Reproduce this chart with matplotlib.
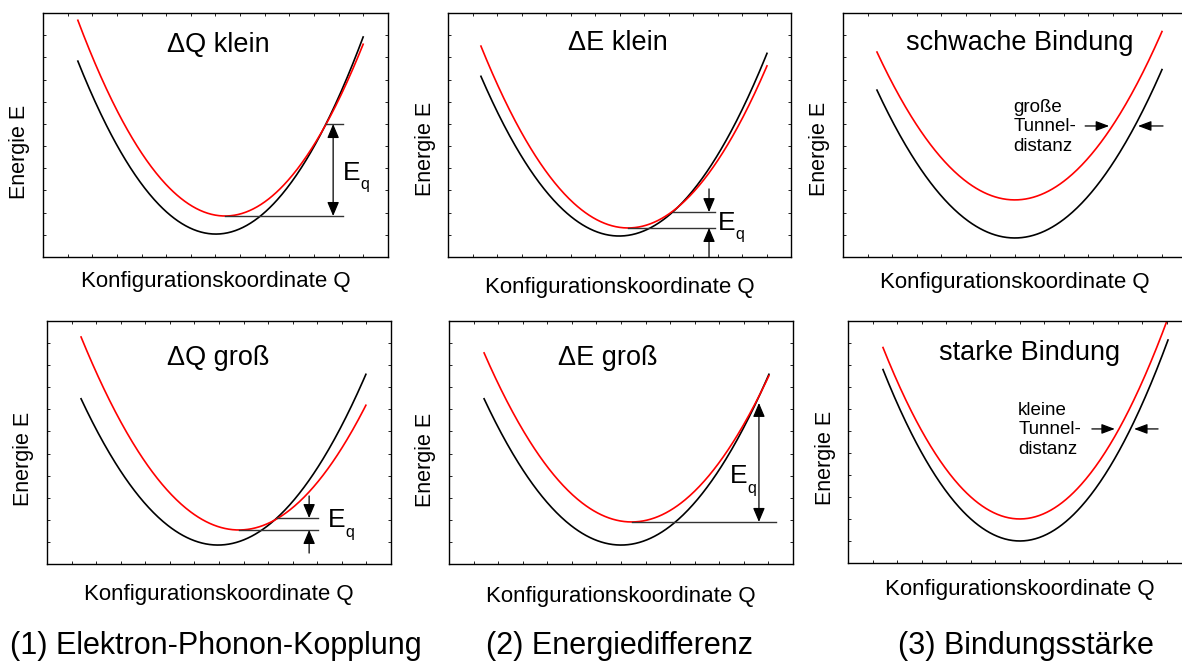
import numpy as np
import matplotlib
matplotlib.use('Agg')
import matplotlib.pyplot as plt

plt.rcParams['font.family'] = ['Liberation Sans', 'DejaVu Sans']

# --- data (configuration coordinate Q / energy E, arbitrary units 0..10) ---
titles = ['ΔQ klein', 'ΔE klein', 'schwache Bindung',
          'ΔQ groß', 'ΔE groß', 'starke Bindung']
captions = ['(1) Elektron-Phonon-Kopplung', '(2) Energiedifferenz', '(3) Bindungsstärke']

q_start = [1.01, 0.96, 0.99, 0.99, 1.02, 1.02]
q_end = [9.28, 9.30, 9.30, 9.27, 9.30, 9.33]

# ground state (black): minimum position, minimum energy, curvature
ground_q0 = [5.01, 4.99, 5.01, 4.97, 5.00, 5.01]
ground_e0 = [0.94, 0.86, 0.78, 0.78, 0.78, 0.91]
ground_k = [0.443, 0.403, 0.375, 0.380, 0.380, 0.445]

# excited state (red)
excited_q0 = [5.28, 5.25, 5.01, 5.58, 5.31, 5.01]
excited_e0 = [1.68, 1.19, 2.34, 1.40, 1.73, 1.82]
excited_k = [0.440, 0.405, 0.375, 0.377, 0.378, 0.445]

# upper level of the E_q marker
eq_top = [5.45, 1.84, None, 1.89, 6.63, None]

tunnel_text = [None, None, 'große\nTunnel-\ndistanz', None, None, 'kleine\nTunnel-\ndistanz']

# --- layout ---
W, H = 1182, 663
boxes = [(43, 13, 388, 257), (448, 13, 791, 257), (843, 13, 1186, 257),
         (47, 321, 391, 564), (449, 321, 793, 564), (848, 321, 1191, 563)]
title_pos = [(5.07, 8.69), (4.96, 8.77), (5.16, 8.77), (4.97, 8.48), (4.62, 8.48), (5.30, 8.68)]
xlabel_off = [30, 36, 31, 36, 38, 32]
ylabel_dy = [17, 14, 14, 16, 17, 16]

# E_q marker details: line end, arrow x, style, text position
eq_marker = {
    0: dict(x_end=8.70, x_arr=8.41, style='inner', text=(8.70, 3.16)),
    1: dict(x_end=7.78, x_arr=7.61, style='outer', below=0.0, above=2.79, text=(7.87, 1.11)),
    3: dict(x_end=7.88, x_arr=7.62, style='outer', below=0.45, above=2.80, text=(8.17, 1.52)),
    4: dict(x_end=9.51, x_arr=9.01, style='inner', text=(8.17, 3.33), no_upper=True),
}
tunnel = {
    2: dict(y=5.37, right=(7.06, 7.76), left=(9.33, 8.60), text=(4.96, 5.33)),
    5: dict(y=5.54, right=(7.11, 7.78), left=(9.04, 8.34), text=(4.96, 5.50)),
}

fig = plt.figure(figsize=(W / 100, H / 100), dpi=100)

def arrow(ax, tail, tip, style='-|>', hl=0.85, hw=0.36):
    ax.annotate('', xy=tip, xytext=tail,
                arrowprops=dict(arrowstyle=f'{style},head_length={hl},head_width={hw}',
                                color='black', lw=0.9, shrinkA=0, shrinkB=0,
                                mutation_scale=10))

for i in range(6):
    l, t, r, b = boxes[i]
    ax = fig.add_axes([l / W, 1 - b / H, (r - l) / W, (b - t) / H])
    ax.set_xlim(0, 10)
    ax.set_ylim(0, 10)
    ax.set_xticks(np.linspace(0, 10, 15))
    ax.set_yticks(np.linspace(0, 10, 12))
    ax.tick_params(direction='in', length=2.5, width=0.6, top=True, right=True,
                   labelbottom=False, labelleft=False)
    for s in ax.spines.values():
        s.set_linewidth(1.0)

    q = np.linspace(q_start[i], q_end[i], 300)
    ax.plot(q, ground_e0[i] + ground_k[i] * (q - ground_q0[i]) ** 2, color='black', lw=1.2)
    ax.plot(q, excited_e0[i] + excited_k[i] * (q - excited_q0[i]) ** 2, color='#ff0000', lw=1.2)

    ax.text(*title_pos[i], titles[i], fontsize=19.5, ha='center', va='center')

    if i in eq_marker:
        m = eq_marker[i]
        low = excited_e0[i]
        high = eq_top[i]
        ax.plot([excited_q0[i], m['x_end']], [low, low], color='#333333', lw=1.0)
        if not m.get('no_upper'):
            xc = ground_q0[i] + np.sqrt((high - ground_e0[i]) / ground_k[i])
            ax.plot([xc, m['x_end']], [high, high], color='#333333', lw=1.0)
        if m['style'] == 'inner':
            arrow(ax, (m['x_arr'], low), (m['x_arr'], high), style='<|-|>')
        else:
            arrow(ax, (m['x_arr'], m['above']), (m['x_arr'], high))
            arrow(ax, (m['x_arr'], m['below']), (m['x_arr'], low))
        ax.text(*m['text'], 'E', fontsize=19, ha='left', va='baseline')
        ax.annotate('q', xy=m['text'], xytext=(12.4, -6.8), textcoords='offset points',
                    fontsize=11.5, ha='left', va='baseline')

    if i in tunnel:
        tn = tunnel[i]
        arrow(ax, (tn['right'][0], tn['y']), (tn['right'][1], tn['y']), hl=0.8, hw=0.3)
        arrow(ax, (tn['left'][0], tn['y']), (tn['left'][1], tn['y']), hl=0.8, hw=0.3)
        ax.text(*tn['text'], tunnel_text[i], fontsize=13.5, ha='left', va='center',
                linespacing=1.2)

    ax.text(0.5, -xlabel_off[i] / (b - t), 'Konfigurationskoordinate Q', fontsize=16,
            ha='center', va='baseline', transform=ax.transAxes)
    ax.text(-23 / (r - l), 0.5 - ylabel_dy[i] / (b - t), 'Energie E', fontsize=15.5,
            rotation=90, ha='center', va='center', transform=ax.transAxes)

for x, txt in zip([216, 620, 1026], captions):
    fig.text(x / W, 1 - 654 / H, txt, fontsize=22, ha='center', va='baseline')

fig.savefig('out.png', dpi=100)
